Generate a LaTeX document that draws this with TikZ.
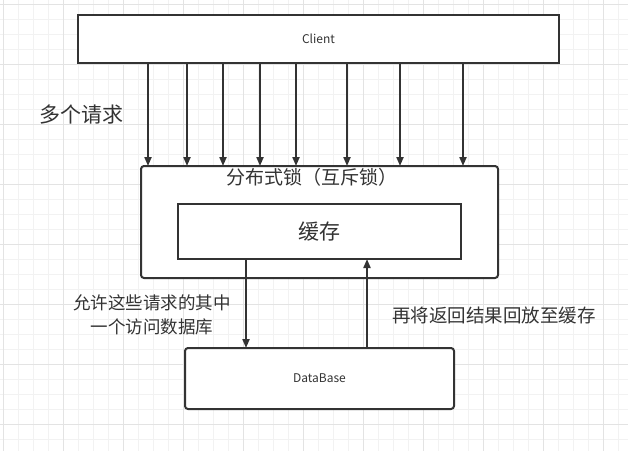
\documentclass[tikz,border=0pt]{standalone}
\usepackage{fontspec}
\setmainfont{Noto Sans CJK SC}
\usetikzlibrary{arrows.meta}
\definecolor{ink}{HTML}{333333}
\definecolor{gridminor}{HTML}{F2F2F2}
\definecolor{gridmajor}{HTML}{E3E3E3}
\begin{document}
\begin{tikzpicture}[x=1pt, y=-1pt,
    box/.style = {draw=ink, line width=2pt, inner sep=0pt, outer sep=0pt, fill=white, text=ink},
    arr/.style = {draw=ink, line width=2pt, -{Triangle[length=9pt,width=7pt]}},
    lbl/.style = {text=ink, inner sep=0pt, align=center}]
    \useasboundingbox (0,0) rectangle (628,451);
    \fill[white] (0,0) rectangle (628,451);
    % background grid
    \foreach \g in {3.3,18.3,...,628} \draw[gridminor, line width=1pt] (\g,0) -- (\g,451);
    \foreach \g in {4,19,...,451} \draw[gridminor, line width=1pt] (0,\g) -- (628,\g);
    \foreach \g in {3.3,63.3,...,628} \draw[gridmajor, line width=1pt] (\g,0) -- (\g,451);
    \foreach \g in {4,64,...,451} \draw[gridmajor, line width=1pt] (0,\g) -- (628,\g);

    \node[box, minimum width=481pt, minimum height=48pt, font=\fontsize{12}{14}\selectfont] (client) at (318.5,39) {Client};
    \node[box, rounded corners=3pt, minimum width=357pt, minimum height=112pt] (lock) at (319.5,222) {};
    \node[lbl, font=\fontsize{19}{22}\selectfont] (locktitle) at (312,177) {分布式锁（互斥锁）};
    \node[box, minimum width=283pt, minimum height=55pt, font=\fontsize{21}{24}\selectfont] (cache) at (319.5,231.5) {缓存};
    \node[box, rounded corners=3pt, minimum width=269pt, minimum height=61pt, font=\fontsize{12}{14}\selectfont] (db) at (319.5,378.5) {DataBase};

    \node[lbl, font=\fontsize{17.5}{24}\selectfont] (allow) at (152,315) {允许这些请求的其中\\一个访问数据库};
    \node[lbl, font=\fontsize{21}{24}\selectfont] (many) at (81,115) {多个请求};
    \node[lbl, font=\fontsize{18.5}{22}\selectfont] (back) at (494,315) {再将返回结果回放至缓存};

    % requests
    \foreach \x in {148,187,223,260,296,347,400,463} {
        \coordinate (t) at (\x,0);
        \draw[arr] (client.south -| t) -- (lock.north -| t);
    }
    \coordinate (down) at (246,0);
    \coordinate (up) at (367,0);
    \draw[arr] (cache.south -| down) -- (db.north -| down);
    \draw[arr] (db.north -| up) -- (cache.south -| up);
\end{tikzpicture}
\end{document}
